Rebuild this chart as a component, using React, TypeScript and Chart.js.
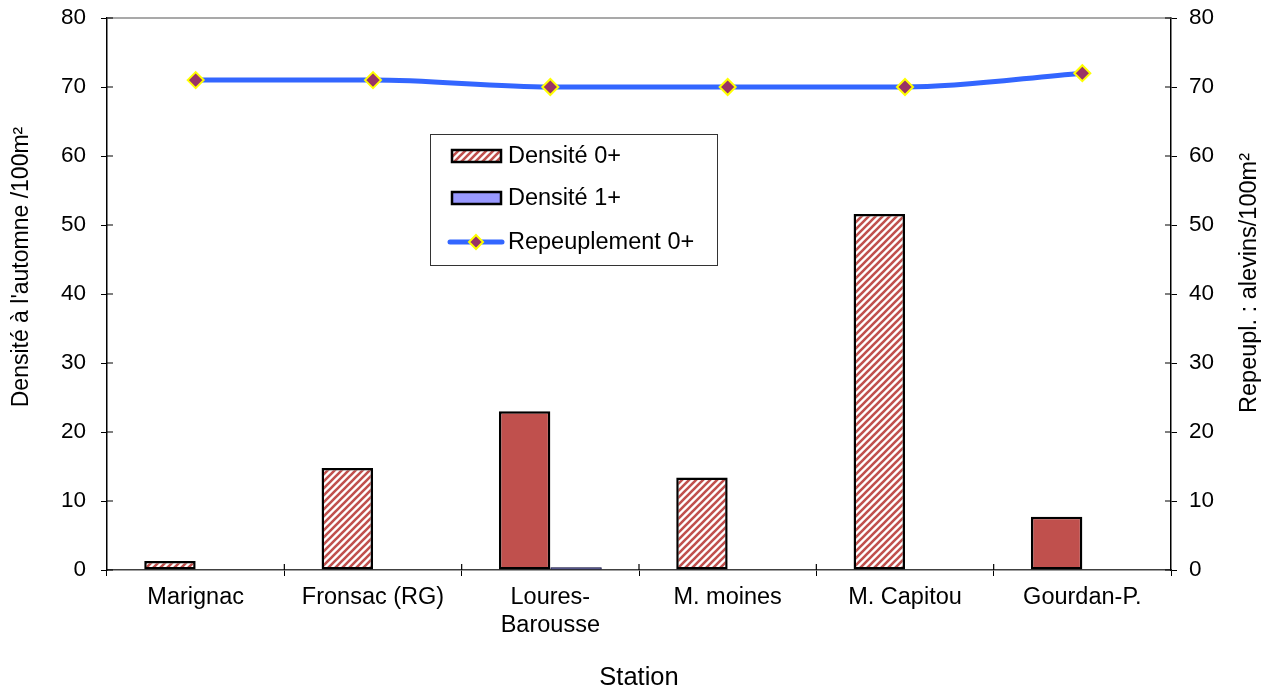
import React, { useEffect, useRef } from "react";
import { Chart, registerables } from "chart.js";

Chart.register(...registerables);

const categories: (string | string[])[] = [
  "Marignac",
  "Fronsac (RG)",
  ["Loures-", "Barousse"],
  "M. moines",
  "M. Capitou",
  "Gourdan-P.",
];
const densite0: number[] = [1.3, 14.8, 23.0, 13.4, 51.6, 7.7];
const hatched0: boolean[] = [true, true, false, true, true, false];
const densite1: number[] = [0, 0, 0.4, 0, 0, 0];
const repeuplement: number[] = [71, 71, 70, 70, 70, 72];
const yTicks: number[] = [0, 10, 20, 30, 40, 50, 60, 70, 80];

const labelsLegend = ["Densité 0+", "Densité 1+", "Repeuplement 0+"];
const leftTitle = "Densité à l'automne /100m²";
const rightTitle = "Repeupl. : alevins/100m²";
const xTitle = "Station";

const FONT = "'Liberation Sans', Arial, sans-serif";
const RED = "#c0504d";
const BLUE_BAR = "#9999ff";
const LINE_BLUE = "#3366ff";
const MARKER = "#993366";

function makeHatch(): CanvasPattern | string {
  const c = document.createElement("canvas");
  const s = 7;
  c.width = s;
  c.height = s;
  const g = c.getContext("2d");
  if (!g) return RED;
  g.fillStyle = "#ffffff";
  g.fillRect(0, 0, s, s);
  g.strokeStyle = RED;
  g.lineWidth = 2.6;
  g.beginPath();
  g.moveTo(-s, 2 * s);
  g.lineTo(2 * s, -s);
  g.moveTo(-s, s);
  g.lineTo(s, -s);
  g.moveTo(0, 2 * s);
  g.lineTo(2 * s, 0);
  g.stroke();
  const p = g.createPattern(c, "repeat");
  return p || RED;
}

export default function App() {
  const ref = useRef<HTMLCanvasElement | null>(null);

  useEffect(() => {
    document.body.style.margin = "0";
    const canvas = ref.current;
    if (!canvas) return;
    const hatch = makeHatch();
    const bg0 = hatched0.map((h) => (h ? hatch : RED));

    const decor = {
      id: "decor",
      afterDraw(chart: any) {
        const ctx = chart.ctx as CanvasRenderingContext2D;
        const ca = chart.chartArea;
        const x = chart.scales.x;
        const y = chart.scales.y;
        const y1 = chart.scales.y1;
        ctx.save();
        ctx.strokeStyle = "#8c8c8c";
        ctx.lineWidth = 1.5;
        ctx.beginPath();
        ctx.moveTo(ca.left, ca.top);
        ctx.lineTo(ca.right, ca.top);
        ctx.stroke();
        ctx.strokeStyle = "#000";
        ctx.lineWidth = 1.2;
        ctx.beginPath();
        yTicks.forEach((v) => {
          const py = y.getPixelForValue(v);
          ctx.moveTo(ca.left, py);
          ctx.lineTo(ca.left + 6, py);
          const py1 = y1.getPixelForValue(v);
          ctx.moveTo(ca.right - 6, py1);
          ctx.lineTo(ca.right, py1);
        });
        const n = categories.length;
        for (let i = 1; i < n; i++) {
          const px = (x.getPixelForValue(i - 1) + x.getPixelForValue(i)) / 2;
          ctx.moveTo(px, ca.bottom - 6);
          ctx.lineTo(px, ca.bottom);
        }
        ctx.stroke();
        ctx.restore();

        // axis titles, both reading bottom-to-top
        ctx.save();
        ctx.fillStyle = "#000";
        ctx.font = `23px ${FONT}`;
        ctx.textAlign = "center";
        ctx.textBaseline = "middle";
        ctx.translate(22, ca.top + 249);
        ctx.rotate(-Math.PI / 2);
        ctx.fillText(leftTitle, 0, 0);
        ctx.restore();

        ctx.save();
        ctx.fillStyle = "#000";
        ctx.font = `23.5px ${FONT}`;
        ctx.textAlign = "center";
        ctx.textBaseline = "middle";
        ctx.translate(chart.width - 24, ca.top + 265);
        ctx.rotate(-Math.PI / 2);
        ctx.fillText(rightTitle, 0, 0);
        ctx.restore();

        // legend
        ctx.save();
        const lx = ca.left + 323;
        const ly = ca.top + 116;
        const lw = 287;
        const lh = 131;
        ctx.fillStyle = "#fff";
        ctx.fillRect(lx, ly, lw, lh);
        ctx.strokeStyle = "#333";
        ctx.lineWidth = 1;
        ctx.strokeRect(lx + 0.5, ly + 0.5, lw, lh);
        const rows = [ly + 22, ly + 64, ly + 108];
        ctx.fillStyle = hatch as any;
        ctx.fillRect(lx + 22, rows[0] - 6, 49, 12);
        ctx.strokeStyle = "#000";
        ctx.lineWidth = 2.5;
        ctx.strokeRect(lx + 22, rows[0] - 6, 49, 12);
        ctx.fillStyle = BLUE_BAR;
        ctx.fillRect(lx + 22, rows[1] - 6, 49, 12);
        ctx.strokeRect(lx + 22, rows[1] - 6, 49, 12);
        ctx.strokeStyle = LINE_BLUE;
        ctx.lineWidth = 5;
        ctx.lineCap = "round";
        ctx.beginPath();
        ctx.moveTo(lx + 20, rows[2]);
        ctx.lineTo(lx + 72, rows[2]);
        ctx.stroke();
        const cx = lx + 46;
        const cy = rows[2];
        const r = 7;
        ctx.beginPath();
        ctx.moveTo(cx, cy - r);
        ctx.lineTo(cx + r, cy);
        ctx.lineTo(cx, cy + r);
        ctx.lineTo(cx - r, cy);
        ctx.closePath();
        ctx.fillStyle = MARKER;
        ctx.fill();
        ctx.strokeStyle = "#ffff00";
        ctx.lineWidth = 2;
        ctx.lineCap = "butt";
        ctx.stroke();
        ctx.fillStyle = "#000";
        ctx.font = `23.5px ${FONT}`;
        ctx.textAlign = "left";
        ctx.textBaseline = "middle";
        labelsLegend.forEach((t, i) => ctx.fillText(t, lx + 78, rows[i] + 1));
        ctx.restore();
      },
    };

    const chart = new Chart(canvas, {
      type: "bar",
      data: {
        labels: categories as any,
        datasets: [
          {
            type: "line" as const,
            label: labelsLegend[2],
            data: repeuplement,
            yAxisID: "y1",
            borderColor: LINE_BLUE,
            borderWidth: 5,
            cubicInterpolationMode: "monotone",
            pointStyle: "rectRot",
            pointRadius: 8,
            pointBackgroundColor: MARKER,
            pointBorderColor: "#ffff00",
            pointBorderWidth: 2,
            order: 0,
          } as any,
          {
            label: labelsLegend[0],
            data: densite0,
            yAxisID: "y",
            backgroundColor: bg0 as any,
            borderColor: "#000",
            borderWidth: 2.5,
            borderSkipped: false,
            categoryPercentage: 0.58,
            barPercentage: 1,
            order: 1,
          },
          {
            label: labelsLegend[1],
            data: densite1,
            yAxisID: "y",
            backgroundColor: BLUE_BAR,
            borderColor: "#000033",
            borderWidth: 1,
            borderSkipped: false,
            categoryPercentage: 0.58,
            barPercentage: 1,
            order: 1,
          },
        ],
      },
      options: {
        animation: false,
        responsive: false,
        maintainAspectRatio: false,
        layout: { padding: { top: 18, left: 0, right: 0, bottom: 0 } },
        plugins: {
          legend: { display: false },
          tooltip: { enabled: false },
        },
        scales: {
          x: {
            offset: true,
            grid: {
              display: true,
              offset: true,
              drawOnChartArea: false,
              tickLength: 6,
              color: "#000",
            },
            border: { display: true, color: "#404040", width: 1.5 },
            ticks: {
              color: "#000",
              font: { size: 23.5, family: FONT },
              padding: 7,
              maxRotation: 0,
              autoSkip: false,
            },
            title: {
              display: true,
              text: xTitle,
              color: "#000",
              font: { size: 25.5, family: FONT },
              padding: { top: 0, bottom: 0 },
            },
            afterFit(scale: any) {
              scale.height = 123;
              scale.paddingLeft = 0;
              scale.paddingRight = 0;
            },
          },
          y: {
            position: "left",
            min: 0,
            max: 80,
            ticks: {
              stepSize: 10,
              color: "#000",
              font: { size: 22.5, family: FONT },
              padding: 15,
            },
            grid: { drawOnChartArea: false, tickLength: 6, color: "#000" },
            border: { display: true, color: "#000", width: 1.5 },
            title: { display: false },
            afterFit(scale: any) {
              scale.width = 107;
              scale.paddingTop = 0;
              scale.paddingBottom = 0;
            },
          },
          y1: {
            position: "right",
            min: 0,
            max: 80,
            ticks: {
              stepSize: 10,
              color: "#000",
              font: { size: 22.5, family: FONT },
              padding: 12,
            },
            grid: { drawOnChartArea: false, tickLength: 6, color: "#000" },
            border: { display: true, color: "#000", width: 1.5 },
            title: { display: false },
            afterFit(scale: any) {
              scale.width = 103;
              scale.paddingTop = 0;
              scale.paddingBottom = 0;
            },
          },
        },
      },
      plugins: [decor],
    } as any);

    return () => chart.destroy();
  }, []);

  return (
    <div style={{ position: "absolute", left: 0, top: 0, width: 1274, height: 693, background: "#fff" }}>
      <canvas ref={ref} width={1274} height={693} style={{ display: "block", width: 1274, height: 693 }} />
    </div>
  );
}
